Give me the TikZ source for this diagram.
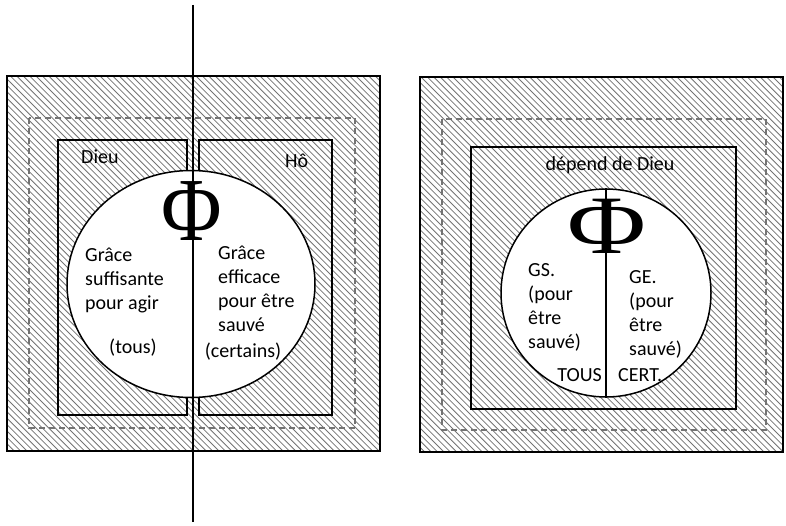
\documentclass[tikz,border=0pt]{standalone}
\usepackage{fontspec}
\setmainfont{Carlito}
\newfontfamily\phifont{Liberation Serif}
\usetikzlibrary{shapes.geometric, positioning}

\begin{document}
\begin{tikzpicture}[x=1pt, y=-1pt,
          cadre/.style={draw=black, line width=1.5pt},
          pointille/.style={draw=black!55, line width=1.2pt, dash pattern=on 6pt off 4pt},
          hachure/.style={draw=black!55, line width=0.8pt},
          rond/.style={ellipse, draw=black, line width=1.5pt, fill=white, inner sep=0pt},
          phi/.style={fill=white, inner xsep=1pt, inner ysep=0pt, font=\phifont\fontsize{#1}{#1}\selectfont},
          txt/.style={align=left, inner sep=0pt, font=\fontsize{20}{24}\selectfont},
        ]
  \useasboundingbox (0,0) rectangle (786,526);
  % hachures
  \begin{scope}
    \clip (7,76) rectangle (380,451) (420,77) rectangle (783,452);
    \foreach \i in {-520,-513.6,...,790}
      \draw[hachure] (\i,0) -- ++(600,600);
  \end{scope}
  % schema de gauche
  \draw[cadre] (7,76) rectangle (380,451);
  \draw[pointille] (29,118) rectangle (355,428);
  \draw[cadre] (58,140) rectangle (187,415);
  \draw[cadre] (199,140) rectangle (332,415);
  \node[rond, minimum width=248pt, minimum height=227pt] (cercleG) at (191,284) {};
  \coordinate (haut) at (193,5);
  \coordinate (bas) at (193,522);
  \draw[line width=1.5pt] (haut) -- (bas);
  \node[phi=90, xscale=0.92] (phiG) at (192,211) {Φ};
  \node[txt, anchor=west] (dieu) at (81,157) {Dieu};
  \node[txt, anchor=west] (ho) at (285,161) {Hô};
  \node[txt, anchor=north west] (gsuf) at (85,248) {Grâce\\suffisante\\pour agir};
  \node[txt, anchor=north west] (geff) at (218,246) {Grâce\\efficace\\pour être\\sauvé};
  \node[txt] (tous) at (133,348) {(tous)};
  \node[txt] (certains) at (243,352) {(certains)};
  % schema de droite
  \draw[cadre] (420,77) rectangle (783,452);
  \draw[pointille] (442,119) rectangle (766,430);
  \draw[cadre] (471,147) rectangle (736,409);
  \node[txt] (depend) at (610,165) {dépend de Dieu};
  \node[rond, minimum width=210pt, minimum height=208pt] (cercleD) at (606,293) {};
  \draw[line width=1.5pt] (cercleD.north) -- (cercleD.south);
  \node[phi=83, xscale=1.3] (phiD) at (607,226) {Φ};
  \node[txt, anchor=north west] (gs) at (528,263) {GS.\\(pour\\être\\sauvé)};
  \node[txt, anchor=north west] (ge) at (629,270) {GE.\\(pour\\être\\sauvé)};
  \node[txt, anchor=east] (tousD) at (602,375) {TOUS};
  \node[txt, anchor=west] (cert) at (618,375) {CERT.};
\end{tikzpicture}
\end{document}
